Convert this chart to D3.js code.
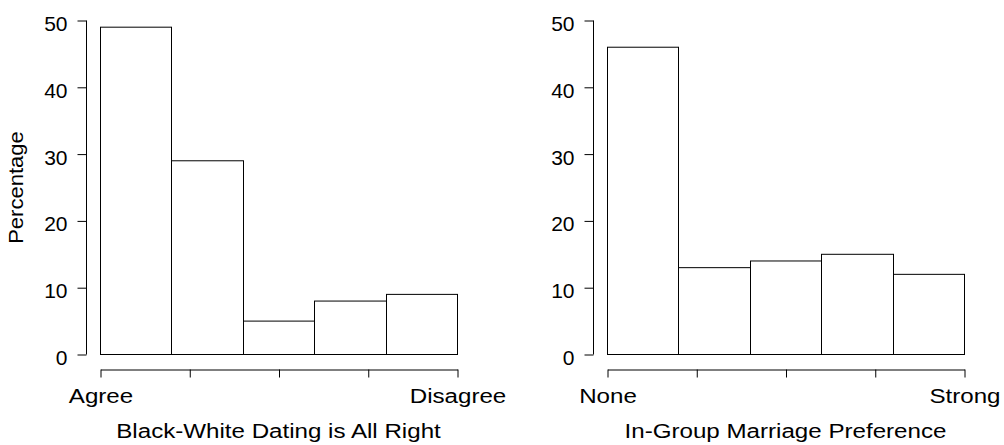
<!DOCTYPE html>
<html>
<head>
<meta charset="utf-8">
<script src="https://cdn.jsdelivr.net/npm/d3@7"></script>
<style>
  body { margin: 0; background: #fff; }
  svg { display: block; }
  text { font-family: "Liberation Sans", Arial, sans-serif; font-size: 21px; fill: #000; }
</style>
</head>
<body>
<svg width="1004" height="445"></svg>
<script>
var categories = ["1", "2", "3", "4", "5"];
var datingValues = [49, 29, 5, 8, 9];
var marriageValues = [46, 13, 14, 15, 12];
var yTicks = [0, 10, 20, 30, 40, 50];
var datingEnds = ["Agree", "Disagree"];
var marriageEnds = ["None", "Strong"];

var svg = d3.select("svg");
var wide = "scale(1.15,1)"; // words in the original are drawn a bit wider

var y = d3.scaleLinear().domain([0, 50]).range([354.5, 20.5]);

function panel(left, values, ends, title, showYLabel) {
    var axisX = left - 14;
    var x = d3.scaleLinear().domain([0, categories.length]).range([left, left + 357]);
    var g = svg.append("g");

    // y axis
    var yAxis = d3.axisLeft(y).tickValues(yTicks).tickSize(9).tickPadding(10);
    var ya = g.append("g")
        .attr("transform", "translate(" + (axisX + 0.5) + ",0)")
        .call(yAxis);
    ya.select(".domain").attr("d", "M0," + y(50) + "V" + y(0)).attr("stroke", "#000");
    ya.selectAll(".tick line").attr("stroke", "#000");
    ya.selectAll("text").style("font-size", "21px").attr("dy", "0.48em");

    // bars
    g.selectAll("rect")
        .data(values)
        .enter().append("rect")
        .attr("x", function(d, i) { return Math.round(x(i)) + 0.5; })
        .attr("y", function(d) { return y(d); })
        .attr("width", function(d, i) { return Math.round(x(i + 1)) - Math.round(x(i)); })
        .attr("height", function(d) { return y(0) - y(d); })
        .attr("fill", "#fff")
        .attr("stroke", "#000")
        .attr("stroke-width", 1);

    // x axis, only the two end labels
    var n = categories.length;
    var xAxis = d3.axisBottom(x).tickValues([0, n / 4, n / 2, 3 * n / 4, n]).tickSize(8).tickSizeOuter(0)
        .tickFormat(function(d) { return d === 0 ? ends[0] : d === n ? ends[1] : ""; })
        .tickPadding(11);
    var xa = g.append("g")
        .attr("transform", "translate(0.5,369.5)")
        .call(xAxis);
    xa.select(".domain").attr("stroke", "#000");
    xa.selectAll(".tick line").attr("stroke", "#000");
    xa.selectAll("text").style("font-size", "21px").attr("transform", wide);

    g.append("text")
        .attr("transform", "translate(" + ((x(0) + x(n)) / 2) + ",438) " + wide)
        .attr("text-anchor", "middle")
        .text(title);

    if (showYLabel) {
        g.append("text")
            .attr("transform", "translate(23," + ((y(0) + y(50)) / 2) + ") rotate(-90) scale(1.05,1)")
            .attr("text-anchor", "middle")
            .text("Percentage");
    }
}

panel(100, datingValues, datingEnds, "Black-White Dating is All Right", true);
panel(607, marriageValues, marriageEnds, "In-Group Marriage Preference", false);
</script>
</body>
</html>
